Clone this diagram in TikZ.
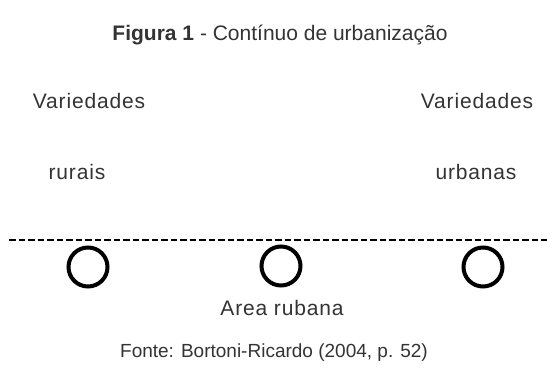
\documentclass[tikz,border=0pt]{standalone}
\usepackage{fontspec}
\setmainfont{Liberation Sans}
\usetikzlibrary{positioning}

\begin{document}
\begin{tikzpicture}
[x=1pt,y=-1pt,thick,%
  every node/.style={anchor=base,inner sep=0pt,text=black!80},
  rotulo/.style={font=\addfontfeature{LetterSpace=4}},
  ponto/.style={shape=circle,draw,line width=4pt,minimum size=39pt}]
\fontsize{21}{24}\selectfont
\useasboundingbox (0,0) rectangle (547,370);
\node (titulo) at (280,40) {\textbf{Figura 1} - Contínuo de urbanização};
\node[rotulo] (varR) at (89,108) {Variedades};
\node[rotulo] (rurais) at (77,179) {rurais};
\node[rotulo] (varU) at (477,108) {Variedades};
\node[rotulo] (urbanas) at (476,179) {urbanas};
\coordinate (linhaA) at (9,240);
\coordinate (linhaB) at (547,240);
\draw[line width=2pt,dash pattern=on 6.5pt off 3pt] (linhaA) -- (linhaB);
\node[ponto,anchor=center] (rural) at (88,267) {};
\node[ponto,anchor=center] (meio) at (281,266) {};
\node[ponto,anchor=center] (urbano) at (483,267) {};
\node[rotulo] (area) at (282,315) {Area rubana};
\node (fonte) at (274,357) {\fontsize{19}{22}\selectfont Fonte: Bortoni-Ricardo (2004, p. 52)};
\end{tikzpicture}
\end{document}
